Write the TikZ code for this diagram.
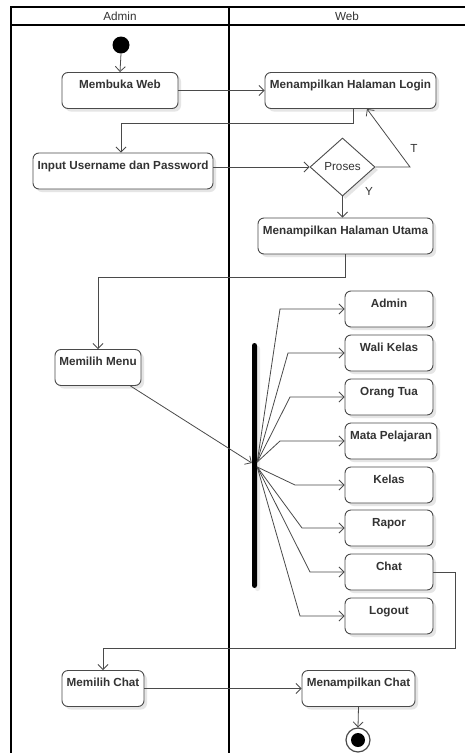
\documentclass[tikz,border=0pt]{standalone}
\usepackage{fontspec}
\setmainfont{Liberation Sans}
\usetikzlibrary{arrows.meta,shapes.geometric,shadows}
\definecolor{edgegray}{HTML}{4A4A4A}
\definecolor{textgray}{HTML}{333333}
\begin{document}
\begin{tikzpicture}[x=1pt,y=-1pt,
  every node/.style={font=\fontsize{11.7}{14}\selectfont, text=textgray},
  lane/.style={line width=1.4pt, black},
  act/.style={draw=edgegray, line width=0.9pt, rounded corners=6pt, fill=white,
    font=\fontsize{11.7}{14}\selectfont\bfseries, align=center,
    inner xsep=1pt, inner ysep=0pt, text height=16pt, text depth=20pt,
    drop shadow={shadow xshift=3pt, shadow yshift=-3pt, fill=black!10, opacity=1}},
  decision/.style={diamond, draw=edgegray, line width=0.9pt, fill=white, inner sep=0pt,
    minimum width=65pt, minimum height=58pt,
    drop shadow={shadow xshift=3pt, shadow yshift=-3pt, fill=black!10, opacity=1}},
  flow/.style={draw=edgegray, line width=0.8pt, -{Straight Barb[length=5pt,width=10pt]}},
  link/.style={draw=edgegray, line width=0.8pt}
]
\useasboundingbox (0,0) rectangle (465,753);
\fill[white] (0,0) rectangle (465,753);

% swimlanes
\draw[lane] (11,753) -- (11,7) -- (465,7);
\draw[lane] (11,25) -- (465,25);
\draw[lane] (229,7) -- (229,753);
\node (laneA) at (120,16.5) {Admin};
\node (laneW) at (347,16.5) {Web};

% initial node
\node[circle, fill=black, minimum size=17pt, inner sep=0pt] (start) at (121,45) {};

% activities
\node[act, minimum width=116pt] (web) at (120,90.5) {Membuka Web};
\node[act, minimum width=171pt] (login) at (350.5,90.5) {Menampilkan Halaman Login};
\node[act, minimum width=180pt] (input) at (123,171) {Input Username dan Password};
\node[decision] (proses) at (342.5,167) {Proses};
\node[act, minimum width=175pt] (utama) at (345.5,236) {Menampilkan Halaman Utama};
\node[act, minimum width=86pt] (menu) at (98,367.5) {Memilih Menu};

% fork bar
\node[fill=black, rounded corners=2.5pt, minimum width=5pt, minimum height=245pt, inner sep=0pt,
  drop shadow={shadow xshift=3pt, shadow yshift=-3pt, fill=black!8, opacity=1}] (fork) at (254.5,465.5) {};

% menu items
\node[act, minimum width=88pt] (mAdmin) at (389,309) {Admin};
\node[act, minimum width=88pt] (mWali) at (389,353) {Wali Kelas};
\node[act, minimum width=88pt] (mOrtu) at (389,397) {Orang Tua};
\node[act, minimum width=92pt] (mMapel) at (391,441) {Mata Pelajaran};
\node[act, minimum width=88pt] (mKelas) at (389,485) {Kelas};
\node[act, minimum width=88pt] (mRapor) at (389,528) {Rapor};
\node[act, minimum width=88pt] (mChat) at (389,572) {Chat};
\node[act, minimum width=88pt] (mLogout) at (389,616) {Logout};

\node[act, minimum width=82pt] (pilihChat) at (103,688.5) {Memilih Chat};
\node[act, minimum width=113pt] (tampilChat) at (358.5,688.5) {Menampilkan Chat};

% final node
\node[circle, draw=edgegray, line width=1.2pt, fill=white, minimum size=24pt, inner sep=0pt] (final) at (358,740) {};
\node[circle, fill=black, minimum size=14pt, inner sep=0pt] (finalDot) at (final.center) {};

% control flow
\draw[flow] (start.south) -- (web.north);
\draw[flow] (web.east) -- (login.west);
\draw[flow] ([xshift=2.5pt]login.south) -- ++(0,14) -| ([xshift=-2pt]input.north);
\draw[flow] (proses.west -| input.east) -- (proses.west);
\coordinate (tBend) at (410,167);
\draw[flow] (proses.east) -- (tBend) -- ([xshift=16.5pt]login.south);
\node (lblT) at (414,148) {T};
\node (lblY) at (369,191) {Y};
\draw[flow] (proses.south) -- (proses.south |- utama.north);
\draw[flow] (utama.south) -- ++(0,23) -| (menu.north);
\draw[flow] ([xshift=-11pt]menu.south east) -- ([yshift=2.5pt]fork.west);

% fork branches
\coordinate (fUp) at ([yshift=3.5pt]fork.east);
\coordinate (fDn) at ([yshift=-1.5pt]fork.east);
\draw[flow] (fUp) -- (280,309) -- (mAdmin.west);
\draw[flow] (fUp) -- (288,353) -- (mWali.west);
\draw[flow] (fUp) -- (290,397) -- (mOrtu.west);
\draw[flow] (fUp) -- (280,441) -- (mMapel.west);
\draw[flow] (fDn) -- (295,485) -- (mKelas.west);
\draw[flow] (fDn) -- (302,528) -- (mRapor.west);
\draw[flow] (fDn) -- (310,572) -- (mChat.west);
\draw[flow] (fDn) -- (300,616) -- (mLogout.west);

\draw[flow] (mChat.east) -- (455,572) -- (455,648) -| (pilihChat.north);
\draw[flow] (pilihChat.east) -- (tampilChat.west);
\draw[flow] (tampilChat.south) -- (final.north);
\end{tikzpicture}
\end{document}
